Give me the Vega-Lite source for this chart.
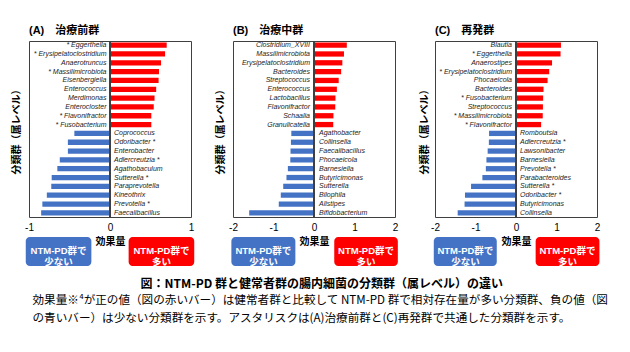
{
  "$schema": "https://vega.github.io/schema/vega-lite/v6.json",
  "padding": {"left": 10, "top": 24, "right": 5, "bottom": 2},
  "data": {"values": [
    {"p": "A", "g": "* Eggerthella", "v": 0.70},
    {"p": "A", "g": "* Erysipelatoclostridium", "v": 0.68},
    {"p": "A", "g": "Anaerotruncus", "v": 0.63},
    {"p": "A", "g": "* Massilimicrobiota", "v": 0.605},
    {"p": "A", "g": "Eisenbergiella", "v": 0.60},
    {"p": "A", "g": "Enterococcus", "v": 0.57},
    {"p": "A", "g": "Merdimonas", "v": 0.55},
    {"p": "A", "g": "Enterocloster", "v": 0.54},
    {"p": "A", "g": "* Flavonifractor", "v": 0.51},
    {"p": "A", "g": "* Fusobacterium", "v": 0.51},
    {"p": "A", "g": "Coprococcus", "v": -0.44},
    {"p": "A", "g": "Odoribacter *", "v": -0.52},
    {"p": "A", "g": "Enterobacter", "v": -0.52},
    {"p": "A", "g": "Adlercreutzia *", "v": -0.62},
    {"p": "A", "g": "Agathobaculum", "v": -0.65},
    {"p": "A", "g": "Sutterella *", "v": -0.72},
    {"p": "A", "g": "Paraprevotella", "v": -0.725},
    {"p": "A", "g": "Kineothrix", "v": -0.78},
    {"p": "A", "g": "Prevotella *", "v": -0.835},
    {"p": "A", "g": "Faecalibacillus", "v": -0.85},
    {"p": "B", "g": "Clostridium_XVIII", "v": 0.81},
    {"p": "B", "g": "Massilimicrobiota", "v": 0.74},
    {"p": "B", "g": "Erysipelatoclostridium", "v": 0.70},
    {"p": "B", "g": "Bacteroides", "v": 0.67},
    {"p": "B", "g": "Streptococcus", "v": 0.61},
    {"p": "B", "g": "Enterococcus", "v": 0.565},
    {"p": "B", "g": "Lactobacillus", "v": 0.53},
    {"p": "B", "g": "Flavonifractor", "v": 0.525},
    {"p": "B", "g": "Schaalia", "v": 0.48},
    {"p": "B", "g": "Granulicatella", "v": 0.475},
    {"p": "B", "g": "Agathobacter", "v": -0.56},
    {"p": "B", "g": "Collinsella", "v": -0.57},
    {"p": "B", "g": "Faecalibacillus", "v": -0.58},
    {"p": "B", "g": "Phocaeicola", "v": -0.585},
    {"p": "B", "g": "Barnesiella", "v": -0.645},
    {"p": "B", "g": "Butyricimonas", "v": -0.68},
    {"p": "B", "g": "Sutterella", "v": -0.76},
    {"p": "B", "g": "Bilophila", "v": -0.82},
    {"p": "B", "g": "Alistipes", "v": -0.87},
    {"p": "B", "g": "Bifidobacterium", "v": -1.6},
    {"p": "C", "g": "Blautia", "v": 1.11},
    {"p": "C", "g": "* Eggerthella", "v": 1.10},
    {"p": "C", "g": "Anaerostipes", "v": 0.89},
    {"p": "C", "g": "* Erysipelatoclostridium", "v": 0.82},
    {"p": "C", "g": "Phocaeicola", "v": 0.78},
    {"p": "C", "g": "Bacteroides", "v": 0.68},
    {"p": "C", "g": "* Fusobacterium", "v": 0.67},
    {"p": "C", "g": "Streptococcus", "v": 0.665},
    {"p": "C", "g": "* Massilimicrobiota", "v": 0.66},
    {"p": "C", "g": "* Flavonifractor", "v": 0.62},
    {"p": "C", "g": "Romboutsia", "v": -0.665},
    {"p": "C", "g": "Adlercreutzia *", "v": -0.67},
    {"p": "C", "g": "Lawsonibacter", "v": -0.70},
    {"p": "C", "g": "Barnesiella", "v": -0.73},
    {"p": "C", "g": "Prevotella *", "v": -0.745},
    {"p": "C", "g": "Parabacteroides", "v": -0.83},
    {"p": "C", "g": "Sutterella *", "v": -1.11},
    {"p": "C", "g": "Odoribacter *", "v": -1.26},
    {"p": "C", "g": "Butyricimonas", "v": -1.27},
    {"p": "C", "g": "Collinsella", "v": -1.44}
  ]},
  "title": {
    "text": "\u200b　　　　　　　　　図：NTM-PD 群と健常者群の腸内細菌の分類群（属レベル）の違い",
    "subtitle": ["効果量※⁴が正の値（図の赤いバー）は健常者群と比較して NTM-PD 群で相対存在量が多い分類群、負の値（図", "の青いバー）は少ない分類群を示す。アスタリスクは(A)治療前群と(C)再発群で共通した分類群を示す。"],
    "orient": "bottom",
    "anchor": "start",
    "frame": "bounds",
    "font": "Noto Sans CJK JP",
    "subtitleFont": "Noto Sans CJK JP",
    "fontSize": 12,
    "fontWeight": "bold",
    "subtitleFontSize": 11.6,
    "subtitleColor": "#000",
    "subtitleLineHeight": 18,
    "subtitlePadding": 4,
    "offset": 12,
    "dx": 22,
    "color": "#000"
  },
  "spacing": 19,
  "hconcat": [
    {
      "width": 162, "height": 176,
      "title": {"text": "(A)　治療前群", "anchor": "start", "frame": "group", "fontSize": 11, "fontWeight": "bold", "offset": 5},
      "transform": [{"filter": "datum.p == 'A'"}],
      "layer": [
        {
          "layer": [
            {
              "mark": {"type": "bar"},
              "encoding": {
                "y": {"field": "g", "type": "nominal", "sort": null, "scale": {"paddingInner": 0.4, "paddingOuter": 0.17}, "axis": {"labels": false, "ticks": false, "domain": false, "title": "分類群（属レベル）", "titleFontSize": 10, "titleFontWeight": "bold", "titlePadding": 8}},
                "x": {"field": "v", "type": "quantitative", "scale": {"domain": [-1, 1]}, "axis": {"values": [-1, 0, 1], "grid": false, "ticks": false, "domain": false, "labelFontSize": 10, "labelPadding": 5, "labelFlush": false, "labelExpr": "'' + datum.value", "title": "効果量", "titleFontSize": 10, "titleFontWeight": "bold", "titlePadding": 4}},
                "color": {"condition": {"test": "datum.v > 0", "value": "#FF0000"}, "value": "#4472C4"}
              }
            },
            {"mark": {"type": "rule", "color": "#404040"}, "encoding": {"x": {"datum": 0}}},
            {
              "transform": [{"filter": "datum.v > 0"}],
              "mark": {"type": "text", "align": "right", "dx": -3.5, "fontSize": 7, "fontStyle": "italic", "color": "#222"},
              "encoding": {"x": {"datum": 0}, "y": {"field": "g", "type": "nominal", "sort": null}, "text": {"field": "g"}}
            },
            {
              "transform": [{"filter": "datum.v < 0"}],
              "mark": {"type": "text", "align": "left", "dx": 4, "fontSize": 7, "fontStyle": "italic", "color": "#222"},
              "encoding": {"x": {"datum": 0}, "y": {"field": "g", "type": "nominal", "sort": null}, "text": {"field": "g"}}
            }
          ]
        },
        {
          "data": {"values": [{}]},
          "layer": [
            {"mark": {"type": "rect", "color": "#4472C4", "cornerRadius": 4}, "encoding": {"x": {"datum": -1.04}, "x2": {"datum": -0.23}, "y": {"datum": -0.1136, "type": "quantitative", "scale": {"domain": [0, 1]}, "axis": null}, "y2": {"datum": -0.2784}}},
            {"mark": {"type": "rect", "color": "#FF0000", "cornerRadius": 4}, "encoding": {"x": {"datum": 0.23}, "x2": {"datum": 1.04}, "y": {"datum": -0.1136, "type": "quantitative"}, "y2": {"datum": -0.2784}}},
            {"mark": {"type": "text", "color": "white", "fontWeight": "bold", "fontSize": 9.5, "lineBreak": "\n", "lineHeight": 11, "baseline": "middle"}, "encoding": {"x": {"datum": -0.635}, "y": {"datum": -0.196, "type": "quantitative"}, "text": {"value": "NTM-PD群で\n少ない"}}},
            {"mark": {"type": "text", "color": "white", "fontWeight": "bold", "fontSize": 9.5, "lineBreak": "\n", "lineHeight": 11, "baseline": "middle"}, "encoding": {"x": {"datum": 0.635}, "y": {"datum": -0.196, "type": "quantitative"}, "text": {"value": "NTM-PD群で\n多い"}}}
          ]
        }
      ],
      "resolve": {"scale": {"y": "independent"}}
    },
    {
      "width": 162, "height": 176,
      "title": {"text": "(B)　治療中群", "anchor": "start", "frame": "group", "fontSize": 11, "fontWeight": "bold", "offset": 5},
      "transform": [{"filter": "datum.p == 'B'"}],
      "layer": [
        {
          "layer": [
            {
              "mark": {"type": "bar"},
              "encoding": {
                "y": {"field": "g", "type": "nominal", "sort": null, "scale": {"paddingInner": 0.4, "paddingOuter": 0.17}, "axis": {"labels": false, "ticks": false, "domain": false, "title": "分類群（属レベル）", "titleFontSize": 10, "titleFontWeight": "bold", "titlePadding": 8}},
                "x": {"field": "v", "type": "quantitative", "scale": {"domain": [-2, 2]}, "axis": {"values": [-2, -1, 0, 1, 2], "grid": false, "ticks": false, "domain": false, "labelFontSize": 10, "labelPadding": 5, "labelFlush": false, "labelExpr": "'' + datum.value", "title": "効果量", "titleFontSize": 10, "titleFontWeight": "bold", "titlePadding": 4}},
                "color": {"condition": {"test": "datum.v > 0", "value": "#FF0000"}, "value": "#4472C4"}
              }
            },
            {"mark": {"type": "rule", "color": "#404040"}, "encoding": {"x": {"datum": 0}}},
            {
              "transform": [{"filter": "datum.v > 0"}],
              "mark": {"type": "text", "align": "right", "dx": -4, "fontSize": 7, "fontStyle": "italic", "color": "#222"},
              "encoding": {"x": {"datum": 0}, "y": {"field": "g", "type": "nominal", "sort": null}, "text": {"field": "g"}}
            },
            {
              "transform": [{"filter": "datum.v < 0"}],
              "mark": {"type": "text", "align": "left", "dx": 5, "fontSize": 7, "fontStyle": "italic", "color": "#222"},
              "encoding": {"x": {"datum": 0}, "y": {"field": "g", "type": "nominal", "sort": null}, "text": {"field": "g"}}
            }
          ]
        },
        {
          "data": {"values": [{}]},
          "layer": [
            {"mark": {"type": "rect", "color": "#4472C4", "cornerRadius": 4}, "encoding": {"x": {"datum": -2.04}, "x2": {"datum": -0.46}, "y": {"datum": -0.1136, "type": "quantitative", "scale": {"domain": [0, 1]}, "axis": null}, "y2": {"datum": -0.2784}}},
            {"mark": {"type": "rect", "color": "#FF0000", "cornerRadius": 4}, "encoding": {"x": {"datum": 0.5}, "x2": {"datum": 2.07}, "y": {"datum": -0.1136, "type": "quantitative"}, "y2": {"datum": -0.2784}}},
            {"mark": {"type": "text", "color": "white", "fontWeight": "bold", "fontSize": 9.5, "lineBreak": "\n", "lineHeight": 11, "baseline": "middle"}, "encoding": {"x": {"datum": -1.25}, "y": {"datum": -0.196, "type": "quantitative"}, "text": {"value": "NTM-PD群で\n少ない"}}},
            {"mark": {"type": "text", "color": "white", "fontWeight": "bold", "fontSize": 9.5, "lineBreak": "\n", "lineHeight": 11, "baseline": "middle"}, "encoding": {"x": {"datum": 1.285}, "y": {"datum": -0.196, "type": "quantitative"}, "text": {"value": "NTM-PD群で\n多い"}}}
          ]
        }
      ],
      "resolve": {"scale": {"y": "independent"}}
    },
    {
      "width": 162, "height": 176,
      "title": {"text": "(C)　再発群", "anchor": "start", "frame": "group", "fontSize": 11, "fontWeight": "bold", "offset": 5},
      "transform": [{"filter": "datum.p == 'C'"}],
      "layer": [
        {
          "layer": [
            {
              "mark": {"type": "bar"},
              "encoding": {
                "y": {"field": "g", "type": "nominal", "sort": null, "scale": {"paddingInner": 0.4, "paddingOuter": 0.17}, "axis": {"labels": false, "ticks": false, "domain": false, "title": "分類群（属レベル）", "titleFontSize": 10, "titleFontWeight": "bold", "titlePadding": 6}},
                "x": {"field": "v", "type": "quantitative", "scale": {"domain": [-2, 2]}, "axis": {"values": [-2, -1, 0, 1, 2], "grid": false, "ticks": false, "domain": false, "labelFontSize": 10, "labelPadding": 5, "labelFlush": false, "labelExpr": "'' + datum.value", "title": "効果量", "titleFontSize": 10, "titleFontWeight": "bold", "titlePadding": 4}},
                "color": {"condition": {"test": "datum.v > 0", "value": "#FF0000"}, "value": "#4472C4"}
              }
            },
            {"mark": {"type": "rule", "color": "#404040"}, "encoding": {"x": {"datum": 0}}},
            {
              "transform": [{"filter": "datum.v > 0"}],
              "mark": {"type": "text", "align": "right", "dx": -4, "fontSize": 7, "fontStyle": "italic", "color": "#222"},
              "encoding": {"x": {"datum": 0}, "y": {"field": "g", "type": "nominal", "sort": null}, "text": {"field": "g"}}
            },
            {
              "transform": [{"filter": "datum.v < 0"}],
              "mark": {"type": "text", "align": "left", "dx": 4, "fontSize": 7, "fontStyle": "italic", "color": "#222"},
              "encoding": {"x": {"datum": 0}, "y": {"field": "g", "type": "nominal", "sort": null}, "text": {"field": "g"}}
            }
          ]
        },
        {
          "data": {"values": [{}]},
          "layer": [
            {"mark": {"type": "rect", "color": "#4472C4", "cornerRadius": 4}, "encoding": {"x": {"datum": -2.03}, "x2": {"datum": -0.475}, "y": {"datum": -0.1136, "type": "quantitative", "scale": {"domain": [0, 1]}, "axis": null}, "y2": {"datum": -0.2784}}},
            {"mark": {"type": "rect", "color": "#FF0000", "cornerRadius": 4}, "encoding": {"x": {"datum": 0.485}, "x2": {"datum": 2.06}, "y": {"datum": -0.1136, "type": "quantitative"}, "y2": {"datum": -0.2784}}},
            {"mark": {"type": "text", "color": "white", "fontWeight": "bold", "fontSize": 9.5, "lineBreak": "\n", "lineHeight": 11, "baseline": "middle"}, "encoding": {"x": {"datum": -1.25}, "y": {"datum": -0.196, "type": "quantitative"}, "text": {"value": "NTM-PD群で\n少ない"}}},
            {"mark": {"type": "text", "color": "white", "fontWeight": "bold", "fontSize": 9.5, "lineBreak": "\n", "lineHeight": 11, "baseline": "middle"}, "encoding": {"x": {"datum": 1.27}, "y": {"datum": -0.196, "type": "quantitative"}, "text": {"value": "NTM-PD群で\n多い"}}}
          ]
        }
      ],
      "resolve": {"scale": {"y": "independent"}}
    }
  ],
  "config": {
    "font": "Liberation Sans, Noto Sans CJK JP",
    "view": {"stroke": "#404040", "strokeWidth": 1},
    "axis": {"labelColor": "#000", "titleColor": "#000"},
    "title": {"color": "#000"}
  }
}
